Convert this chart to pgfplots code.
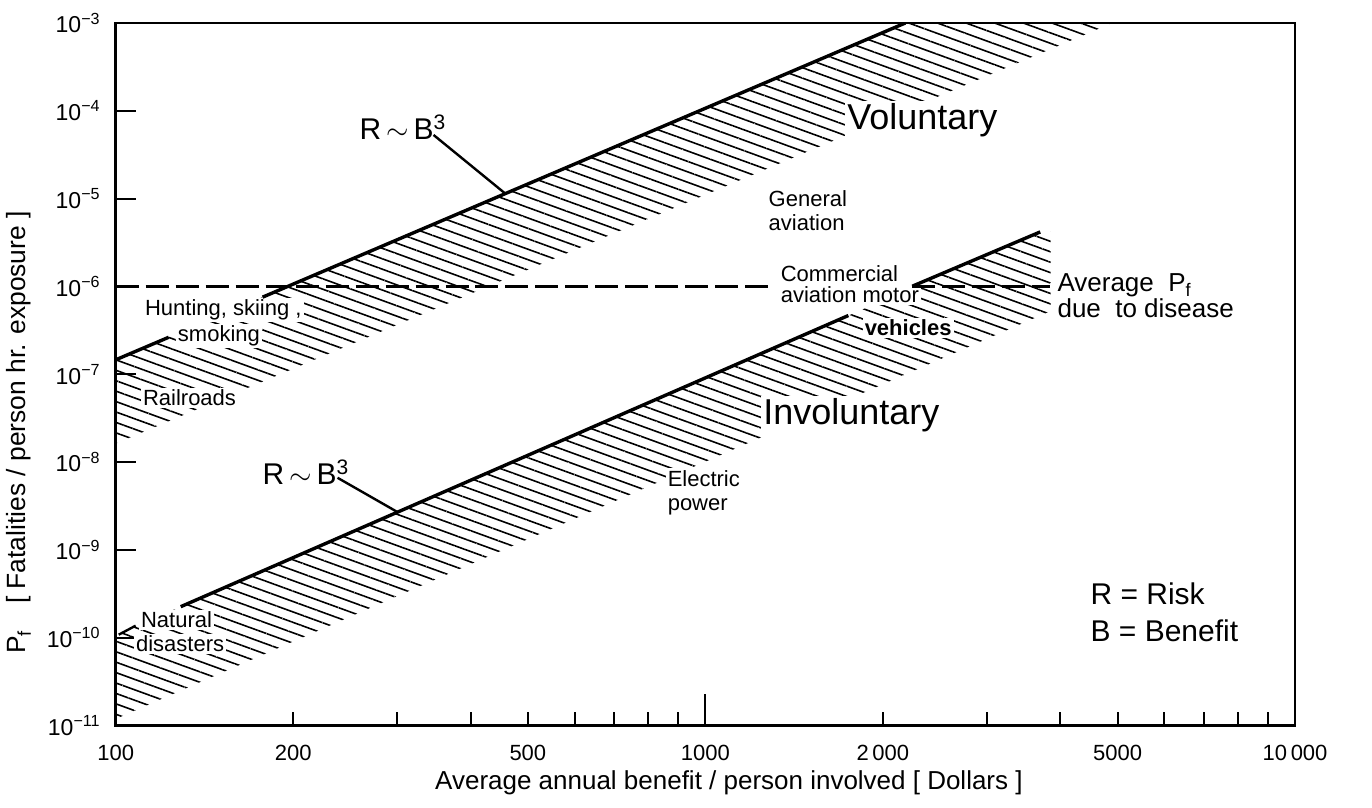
\documentclass[border=0pt]{standalone}
\usepackage{fontspec}
\setmainfont{Liberation Sans}
\usepackage{pgfplots}
\pgfplotsset{compat=1.18}
\usetikzlibrary{patterns.meta}

\newcommand{\lbl}{\fontsize{11}{12}\selectfont}
\newcommand{\bigtxt}{\fontsize{18}{20}\selectfont}
\newcommand{\rb}{\fontsize{15}{17}\selectfont}

\begin{document}
\begin{tikzpicture}
\begin{axis}[
  scale only axis, width=590pt, height=351.5pt,
  xmode=log, ymode=log,
  xmin=100, xmax=10000, ymin=1e-11, ymax=1e-3,
  axis line style={line width=1.2pt},
  every tick/.style={line width=1pt, black},
  tick align=inside,
  xtick pos=left, ytick pos=left,
  major tick length=7pt,
  xminorticks=false, yminorticks=false,
  xtick={100,200,300,400,500,600,700,800,900,1000,2000,3000,4000,5000,6000,7000,8000,9000,10000},
  xticklabels={100,200,,,500,,,,,1000,2\,000,,,5000,,,,,10\,000},
  ytick={1e-11,1e-10,1e-9,1e-8,1e-7,1e-6,1e-5,1e-4,1e-3},
  yticklabels={10\textsuperscript{−11},10\textsuperscript{−10},10\textsuperscript{−9},10\textsuperscript{−8},10\textsuperscript{−7},10\textsuperscript{−6},10\textsuperscript{−5},10\textsuperscript{−4},10\textsuperscript{−3}},
  extra x ticks={1000}, extra x tick labels={},
  extra x tick style={major tick length=16pt},
  extra y ticks={1e-10,1e-9,1e-8,1e-7,1e-6,1e-5,1e-4}, extra y tick labels={},
  extra y tick style={major tick length=10pt},
  xticklabel style={yshift=-6pt, font=\fontsize{11}{13}\selectfont},
  yticklabel style={xshift=-4pt, font=\fontsize{11.5}{13}\selectfont},
  xlabel={Average annual benefit / person involved [ Dollars ]},
  xlabel style={at={(axis description cs:0.52,-0.081)}, anchor=center, font=\fontsize{13}{15}\selectfont},
  ylabel={P\textsubscript{f}\quad[ Fatalities / person hr. exposure ]},
  ylabel style={at={(axis description cs:-0.082,0.417)}, anchor=center, rotate=0, font=\fontsize{13.2}{15}\selectfont},
]
% hatched bands
\addplot[draw=none, pattern={Lines[angle=-20, distance=4.9pt, line width=0.8pt]}]
  coordinates {(100,1.462e-7) (2183,1e-3) (4900,1e-3) (100,1.625e-8) (100,1.462e-7)};
\addplot[draw=none, pattern={Lines[angle=-20, distance=4.9pt, line width=0.8pt]}]
  coordinates {(100,1.075e-10) (3697,4.18e-6) (3850,4.18e-6) (3850,5.25e-7) (100,1.19e-11) (100,1.075e-10)};

% labels with white background
\begin{scope}[every node/.style={fill=white, inner sep=1pt}]
\node[anchor=center, font=\bigtxt] at (rel axis cs:0.6839,0.862) {Voluntary};
\node[anchor=center, font=\bigtxt] at (rel axis cs:0.6237,0.4424) {Involuntary};
\node[anchor=north west, align=left, font=\lbl] at (rel axis cs:0.5517,0.7653) {General\\aviation};
\node[anchor=base west, font=\lbl] at (rel axis cs:0.0229,0.5832) {Hunting, skiing ,};
\node[anchor=base west, font=\lbl] at (rel axis cs:0.0212,0.4552) {Railroads};
\node[anchor=base west, font=\lbl] at (rel axis cs:0.5619,0.6316) {Commercial};
\node[anchor=base west, font=\lbl] at (rel axis cs:0.5619,0.6017) {aviation motor};
\node[anchor=north west, align=left, font=\lbl] at (rel axis cs:0.4661,0.367) {Electric\\power};
\node[anchor=base west, font=\lbl] at (rel axis cs:0.0195,0.1394) {Natural};
\node[anchor=base west, font=\lbl] at (rel axis cs:0.0153,0.1053) {disasters};
\end{scope}

% dashed average line
\addplot[black, line width=1.4pt, dash pattern=on 11.5pt off 3.5pt] coordinates {(100,1e-6) (1314,1e-6)};
\addplot[black, line width=1.4pt, dash pattern=on 11.5pt off 3.5pt] coordinates {(2243,1e-6) (3843,1e-6)};

% voluntary line
\addplot[black, line width=1.7pt] coordinates {(100,1.462e-7) (123,2.64e-7)};
\addplot[black, line width=1.7pt] coordinates {(177.5,7.56e-7) (2183,1e-3)};
% involuntary line
\addplot[black, line width=1.7pt] coordinates {(128.9,2.26e-10) (1748,4.67e-7)};
\addplot[black, line width=1.7pt] coordinates {(2243,1.006e-6) (3697,4.18e-6)};

% pointers
\addplot[black, line width=1.2pt] coordinates {(346,5.31e-5) (458,1.14e-5)};
\addplot[black, line width=1.2pt] coordinates {(237.8,6.64e-9) (300.6,2.7e-9)};
\addplot[black, line width=1.2pt] coordinates {(101.2,1.085e-10) (108.1,1.374e-10)};

\node[anchor=base west, fill=white, inner sep=1pt, font=\lbl] at (rel axis cs:0.0508,0.5462) {smoking};
\node[anchor=base west, fill=white, inner sep=1pt, font=\lbl\bfseries] at (rel axis cs:0.6331,0.5548) {vehicles};
\node[anchor=base west, font=\rb] at (rel axis cs:0.2008,0.8336) {R\,$\sim$\,B\textsuperscript{3}};
\node[anchor=base west, font=\rb] at (rel axis cs:0.1186,0.3428) {R\,$\sim$\,B\textsuperscript{3}};
\node[anchor=base west, align=left, inner sep=1pt, font=\fontsize{13}{11}\selectfont] at (rel axis cs:0.7966,0.581) {Average \ P\textsubscript{f}\\due \ to disease};
\node[anchor=base west, align=left, inner sep=0pt, font=\fontsize{15}{18.5}\selectfont] at (rel axis cs:0.8263,0.1195) {R = Risk\\B = Benefit};
\end{axis}
\path (-57.5pt,-41pt) rectangle (628.5pt,363pt);
\end{tikzpicture}
\end{document}
